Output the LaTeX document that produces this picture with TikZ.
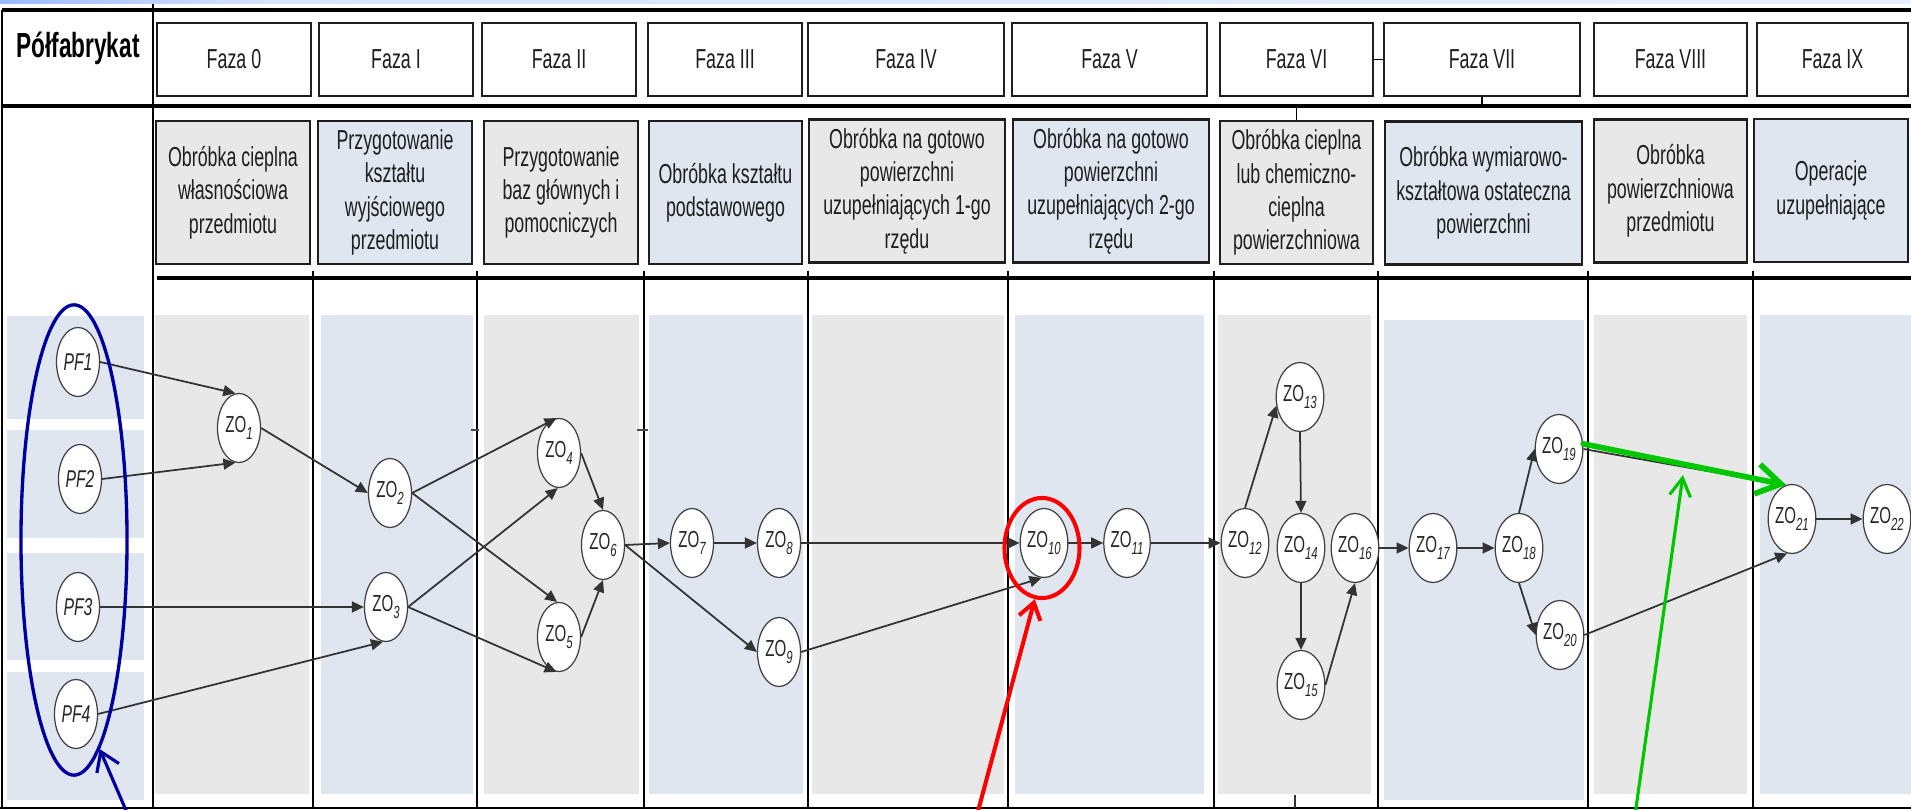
\documentclass[tikz,border=0pt]{standalone}
\usepackage{fontspec}
\setmainfont{Liberation Sans}
\newfontfamily\narrowfont[FakeStretch=0.65]{Liberation Sans}
\usetikzlibrary{shapes.geometric,arrows.meta}

\definecolor{bandgray}{HTML}{E8E8E8}
\definecolor{bandblue}{HTML}{DFE6F0}
\definecolor{inkdark}{HTML}{1E1E1E}
\definecolor{notenavy}{RGB}{0,0,160}
\definecolor{notered}{RGB}{255,0,0}
\definecolor{notegreen}{RGB}{0,200,0}
\definecolor{barblue}{RGB}{30,100,255}

\pgfdeclarehorizontalshading{topbar}{100bp}{%
  color(0bp)=(barblue); color(16bp)=(barblue!80!white);
  color(32bp)=(barblue!18!white); color(100bp)=(barblue!6!white)}

\newcommand\zsub[1]{\raisebox{-0.55ex}{\fontsize{5}{5}\selectfont\itshape #1}}

\tikzset{
  phasehead/.style={draw=inkdark, line width=0.65pt, fill=white, inner sep=0pt,
    minimum height=0.73cm, text=inkdark,
    font=\narrowfont\fontsize{7.8}{9.5}\selectfont},
  phasedesc/.style={draw=inkdark, line width=0.65pt, inner sep=0pt,
    minimum height=1.43cm, align=center, text=inkdark,
    font=\narrowfont\fontsize{7.8}{9.5}\selectfont},
  op/.style={ellipse, draw=black!75, line width=0.35pt, fill=white,
    minimum width=0.43cm, minimum height=0.69cm, inner sep=0pt, text=black!85,
    font=\narrowfont\fontsize{6.6}{7}\selectfont},
  pf/.style={op, font=\narrowfont\itshape\fontsize{6.9}{7}\selectfont},
  flow/.style={draw=black!80, line width=0.5pt,
    -{Triangle[length=0.12cm,width=0.11cm]}},
  rule/.style={draw=black, line width=0.8pt},
  heavyrule/.style={draw=black, line width=1.2pt},
  note/.style={line cap=round, line join=round},
}

\begin{document}
\begin{tikzpicture}[x=0.01cm,y=-0.01cm]
\useasboundingbox (0,0) rectangle (1911,810);
\fill[white] (0,0) rectangle (1911,810);
\shade[shading=topbar] (0,0) rectangle (1911,4);

% --- column bands ---
\fill[bandblue] (7,316) rectangle (144,419);
\fill[bandblue] (7,430) rectangle (144,538);
\fill[bandblue] (7,553) rectangle (144,660);
\fill[bandblue] (7,672) rectangle (144,800);
\fill[bandgray] (155,315) rectangle (309,794);
\fill[bandblue] (321,315) rectangle (473,794);
\fill[bandgray] (484,315) rectangle (639,794);
\fill[bandblue] (649,315) rectangle (803,794);
\fill[bandgray] (812,315) rectangle (1004,794);
\fill[bandblue] (1015,315) rectangle (1204,794);
\fill[bandgray] (1218,315) rectangle (1371,794);
\fill[bandblue] (1384,320) rectangle (1584,800);
\fill[bandgray] (1594,315) rectangle (1747,794);
\fill[bandblue] (1760,315) rectangle (1911,794);

% --- table rules ---
\draw[heavyrule] (2,10) -- (1911,10);
\draw[heavyrule] (2,106) -- (1911,106);
\draw[heavyrule] (157,278) -- (1911,278);
\draw[rule] (2,10) -- (2,808);
\draw[rule] (153,4) -- (153,808);
\draw[rule] (0,808) -- (1911,808);
\foreach \cx in {313,477,644,808,1008,1214,1378,1588,1753}
  \draw[rule] (\cx,271) -- (\cx,808);
\draw[black!70, line width=0.4pt] (471,430) -- (479,430);
\draw[black!70, line width=0.4pt] (637,430) -- (648,430);
\draw[black!80, line width=0.4pt] (1295,795) -- (1295,808);

% --- header ---
\node[font=\narrowfont\bfseries\fontsize{9.9}{11}\selectfont, anchor=base, text=black]
  (semi) at (78,58) {Półfabrykat};
\node[phasehead, minimum width=1.54cm] (h0) at (234,59.5) {Faza 0};
\node[phasehead, minimum width=1.54cm] (h1) at (396,59.5) {Faza I};
\node[phasehead, minimum width=1.54cm] (h2) at (559,59.5) {Faza II};
\node[phasehead, minimum width=1.54cm] (h3) at (725,59.5) {Faza III};
\node[phasehead, minimum width=1.96cm] (h4) at (906,59.5) {Faza IV};
\node[phasehead, minimum width=1.95cm] (h5) at (1109.5,59.5) {Faza V};
\node[phasehead, minimum width=1.53cm] (h6) at (1296.5,59.5) {Faza VI};
\node[phasehead, minimum width=1.96cm] (h7) at (1482,59.5) {Faza VII};
\node[phasehead, minimum width=1.53cm] (h8) at (1670.5,59.5) {Faza VIII};
\node[phasehead, minimum width=1.51cm] (h9) at (1832.5,59.5) {Faza IX};
\draw[black, line width=0.5pt] (h6.east) -- (h7.west);
\draw[black, line width=0.5pt] (h7.south) -- ++(0,10);

% --- phase descriptions ---
\node[phasedesc, fill=bandgray, minimum width=1.54cm] (d0) at (233,192.5)
  {Obróbka cieplna\\własnościowa\\przedmiotu};
\node[phasedesc, fill=bandblue, minimum width=1.54cm] (d1) at (395,192.5)
  {Przygotowanie\\kształtu\\wyjściowego\\przedmiotu};
\node[phasedesc, fill=bandgray, minimum width=1.54cm] (d2) at (561,192.5)
  {Przygotowanie\\baz głównych i\\pomocniczych};
\node[phasedesc, fill=bandblue, minimum width=1.53cm] (d3) at (725.5,192.5)
  {Obróbka kształtu\\podstawowego};
\node[phasedesc, fill=bandgray, minimum width=1.96cm] (d4) at (907,191)
  {Obróbka na gotowo\\powierzchni\\uzupełniających 1-go\\rzędu};
\node[phasedesc, fill=bandblue, minimum width=1.96cm] (d5) at (1111,191)
  {Obróbka na gotowo\\powierzchni\\uzupełniających 2-go\\rzędu};
\node[phasedesc, fill=bandgray, minimum width=1.53cm] (d6) at (1296.5,192.5)
  {Obróbka cieplna\\lub chemiczno-\\cieplna\\powierzchniowa};
\node[phasedesc, fill=bandblue, minimum width=1.97cm] (d7) at (1483.5,193)
  {Obróbka wymiarowo-\\kształtowa ostateczna\\powierzchni};
\node[phasedesc, fill=bandgray, minimum width=1.53cm] (d8) at (1670.5,191)
  {Obróbka\\powierzchniowa\\przedmiotu};
\node[phasedesc, fill=bandblue, minimum width=1.54cm] (d9) at (1831,190.5)
  {Operacje\\uzupełniające};
\draw[black, line width=0.5pt] (d6.north) -- ++(0,-15);

% --- semi-finished products ---
\node[pf] (PF1) at (78,362) {PF1};
\node[pf] (PF2) at (80,479) {PF2};
\node[pf] (PF3) at (78,607) {PF3};
\node[pf] (PF4) at (76,714) {PF4};

% --- operations ---
\node[op] (ZO1) at (239,428) {ZO\zsub{1}};
\node[op] (ZO2) at (390,493) {ZO\zsub{2}};
\node[op] (ZO3) at (386,607) {ZO\zsub{3}};
\node[op] (ZO4) at (559,453) {ZO\zsub{4}};
\node[op] (ZO5) at (559,637) {ZO\zsub{5}};
\node[op] (ZO6) at (603,545) {ZO\zsub{6}};
\node[op] (ZO7) at (692,543) {ZO\zsub{7}};
\node[op] (ZO8) at (779,543) {ZO\zsub{8}};
\node[op] (ZO9) at (779,652) {ZO\zsub{9}};
\node[op] (ZO10) at (1044,543) {ZO\zsub{10}};
\node[op] (ZO11) at (1127,543) {ZO\zsub{11}};
\node[op] (ZO12) at (1245,543) {ZO\zsub{12}};
\node[op] (ZO13) at (1300,397) {ZO\zsub{13}};
\node[op] (ZO14) at (1301,548) {ZO\zsub{14}};
\node[op] (ZO15) at (1301,685) {ZO\zsub{15}};
\node[op] (ZO16) at (1355,548) {ZO\zsub{16}};
\node[op] (ZO17) at (1433,548) {ZO\zsub{17}};
\node[op] (ZO18) at (1519,548) {ZO\zsub{18}};
\node[op] (ZO19) at (1559,449) {ZO\zsub{19}};
\node[op] (ZO20) at (1560,635) {ZO\zsub{20}};
\node[op] (ZO21) at (1792,519) {ZO\zsub{21}};
\node[op] (ZO22) at (1887,519) {ZO\zsub{22}};

% --- process flow ---
\draw[flow] (PF1.east) -- (ZO1.96);
\draw[flow] (PF2.east) -- (ZO1.264);
\draw[flow] (ZO1.east) -- (ZO2.west);
\draw[flow] (PF3.east) -- (ZO3.west);
\draw[flow] (PF4.east) -- (ZO3.265);
\draw[flow] (ZO2.east) -- (ZO4.94);
\draw[flow] (ZO2.east) -- (ZO5.93);
\draw[flow] (ZO3.east) -- (ZO4.268);
\draw[flow] (ZO3.east) -- (ZO5.266);
\draw[flow] (ZO4.east) -- (ZO6.north);
\draw[flow] (ZO5.east) -- (ZO6.south);
\draw[flow] (ZO6.east) -- (ZO7.west);
\draw[flow] (ZO6.east) -- (ZO9.west);
\draw[flow] (ZO7.east) -- (ZO8.west);
\draw[flow] (ZO8.east) -- (ZO10.west);
\draw[flow] (ZO9.east) -- (ZO10.266);
\draw[flow] (ZO10.east) -- (ZO11.west);
\draw[flow] (ZO11.east) -- (ZO12.west);
\draw[flow] (ZO12.north) -- (ZO13.200);
\draw[flow] (ZO13.south) -- (ZO14.north);
\draw[flow] (ZO14.south) -- (ZO15.north);
\draw[flow] (ZO15.east) -- (ZO16.south);
\draw[flow] (ZO16.east) -- (ZO17.west);
\draw[flow] (ZO17.east) -- (ZO18.west);
\draw[flow] (ZO18.north) -- (ZO19.west);
\draw[flow] (ZO18.south) -- (ZO20.west);
\draw[flow] (ZO19.east) -- (ZO21.100);
\draw[flow] (ZO20.east) -- (ZO21.262);
\draw[flow] (ZO21.east) -- (ZO22.west);

% --- highlights ---
\node[ellipse, draw=notenavy, line width=0.95pt, minimum width=1.06cm,
  minimum height=4.7cm, inner sep=0pt] (pfgroup) at (74,540) {};
\coordinate (navytail) at (128,815);
\draw[note, notenavy, line width=0.9pt,
  -{Straight Barb[length=0.18cm,width=0.24cm]}] (navytail) -- (pfgroup.277);

\node[ellipse, draw=notered, line width=1.15pt, minimum width=0.75cm,
  minimum height=1.0cm, inner sep=0pt] (zoring) at (1042,548) {};
\coordinate (redtail) at (977,815);
\draw[note, notered, line width=1.15pt,
  -{Straight Barb[length=0.16cm,width=0.22cm]}] (redtail) -- (zoring.262);

\draw[note, notegreen, line width=1.6pt,
  -{Straight Barb[length=0.24cm,width=0.3cm]}] (ZO19.12) -- (ZO21.100);
\coordinate (greentail) at (1635,815);
\coordinate (greenpoint) at (1683,475);
\draw[note, notegreen, line width=0.9pt,
  -{Straight Barb[length=0.18cm,width=0.21cm]}] (greentail) -- (greenpoint);
\end{tikzpicture}
\end{document}
